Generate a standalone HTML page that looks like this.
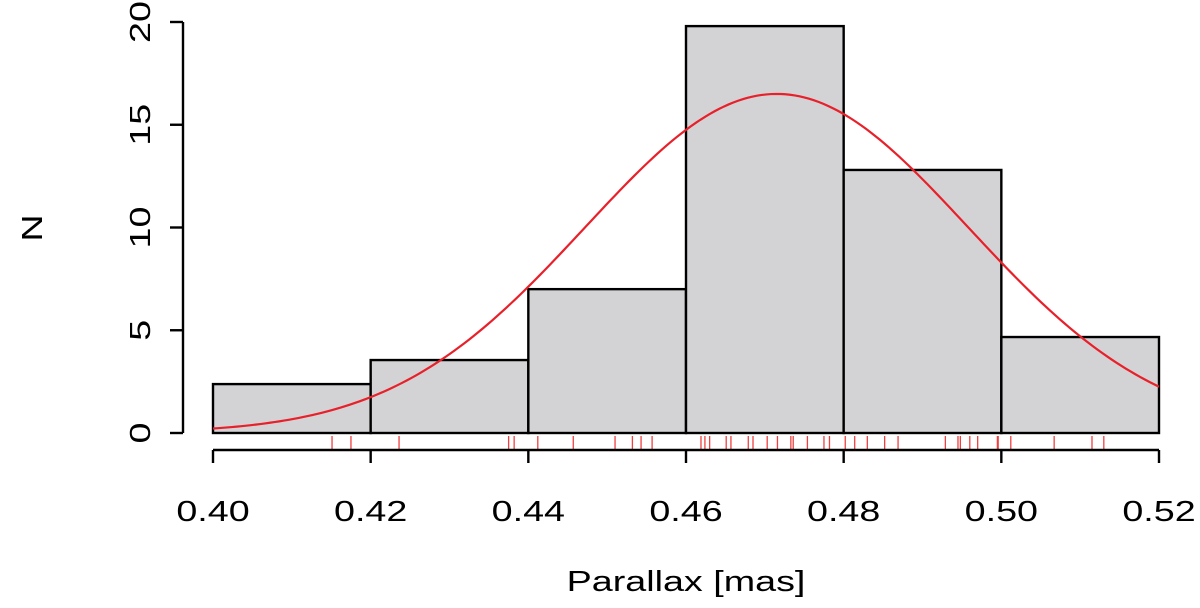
<!DOCTYPE html>
<html><head><meta charset="utf-8"><style>
html,body{margin:0;padding:0;background:#fff;}
svg{display:block;font-family:"Liberation Sans",Arial,sans-serif;}
</style></head><body>
<svg id="chart" width="1200" height="608" viewBox="0 0 1200 608"></svg>
<script>
const binEdges=[0.40,0.42,0.44,0.46,0.48,0.50,0.52];
const binCounts=[2.38,3.55,7.0,19.8,12.8,4.67];
const xTicks=[0.40,0.42,0.44,0.46,0.48,0.50,0.52];
const xTickLabels=["0.40","0.42","0.44","0.46","0.48","0.50","0.52"];
const yTicks=[0,5,10,15,20];
const yTickLabels=["0","5","10","15","20"];
const fitMean=0.4715, fitSd=0.0243, fitPeak=16.5;
const rugValues=[0.4151,0.4175,0.4236,0.4375,0.4382,0.4412,0.4457,0.4510,0.4532,0.4543,0.4557,0.4619,0.4624,0.4630,0.4651,0.4657,0.4679,0.4685,0.4703,0.4716,0.4733,0.4736,0.4754,0.4775,0.4782,0.4802,0.4814,0.4830,0.4852,0.4869,0.4929,0.4945,0.4948,0.4960,0.4970,0.4995,0.4996,0.5012,0.5067,0.5115,0.5130];

const NS="http://www.w3.org/2000/svg";
const svg=document.getElementById('chart');
const X=v=>213+(v-0.40)/0.12*946;
const Y=v=>433-v*20.55;
function mk(tag,attrs,parent){const e=document.createElementNS(NS,tag);for(const k in attrs)e.setAttribute(k,attrs[k]);(parent||svg).appendChild(e);return e;}

const bars=mk('g',{});


binCounts.forEach((c,i)=>{
  const r=mk('rect',{x:X(binEdges[i]),y:Y(c),width:X(binEdges[i+1])-X(binEdges[i]),height:Y(0)-Y(c),fill:'#d3d3d6',stroke:'#000','stroke-width':2.4},bars);
  
  
});

let d='';
for(let k=0;k<=200;k++){const v=0.40+0.12*k/200;const y=fitPeak*Math.exp(-Math.pow(v-fitMean,2)/(2*fitSd*fitSd));d+=(k?'L':'M')+X(v).toFixed(2)+','+Y(y).toFixed(2);}
const fit=mk('path',{d:d,fill:'none',stroke:'#e8202a','stroke-width':2.2});



const rug=mk('g',{});


rugValues.forEach(v=>{
  const l=mk('line',{x1:X(v),x2:X(v),y1:436,y2:450,stroke:'#f04040','stroke-width':1.3},rug);
  
  
});

const xa=mk('g',{});


mk('line',{x1:X(0.40),x2:X(0.52),y1:450,y2:450,stroke:'#000','stroke-width':2.4},xa);
xTicks.forEach((v,i)=>{
  mk('line',{x1:X(v),x2:X(v),y1:450,y2:463,stroke:'#000','stroke-width':2.4},xa);
  const t=mk('text',{x:0,y:0,'text-anchor':'middle','font-size':29,fill:'#000',transform:`translate(${X(v)},521) scale(1.3,1)`},xa);
  t.textContent=xTickLabels[i];
  
  
});
const ya=mk('g',{});


mk('line',{x1:183,x2:183,y1:Y(0),y2:Y(20),stroke:'#000','stroke-width':2.4},ya);
yTicks.forEach((v,i)=>{
  mk('line',{x1:170,x2:183,y1:Y(v),y2:Y(v),stroke:'#000','stroke-width':2.4},ya);
  const t=mk('text',{x:0,y:0,'text-anchor':'middle','font-size':29,fill:'#000',transform:`translate(150,${Y(v)}) rotate(-90) scale(1.3,1)`},ya);
  t.textContent=yTickLabels[i];
  
  
});
const xt=mk('text',{x:0,y:0,'text-anchor':'middle','font-size':29,fill:'#000',transform:'translate(686,591) scale(1.3,1)'});
xt.textContent='Parallax [mas]';


const yt=mk('text',{x:0,y:0,'text-anchor':'middle','font-size':29,fill:'#000',transform:'translate(42,228) rotate(-90) scale(1.3,1)'});
yt.textContent='N';


</script>
</body></html>
